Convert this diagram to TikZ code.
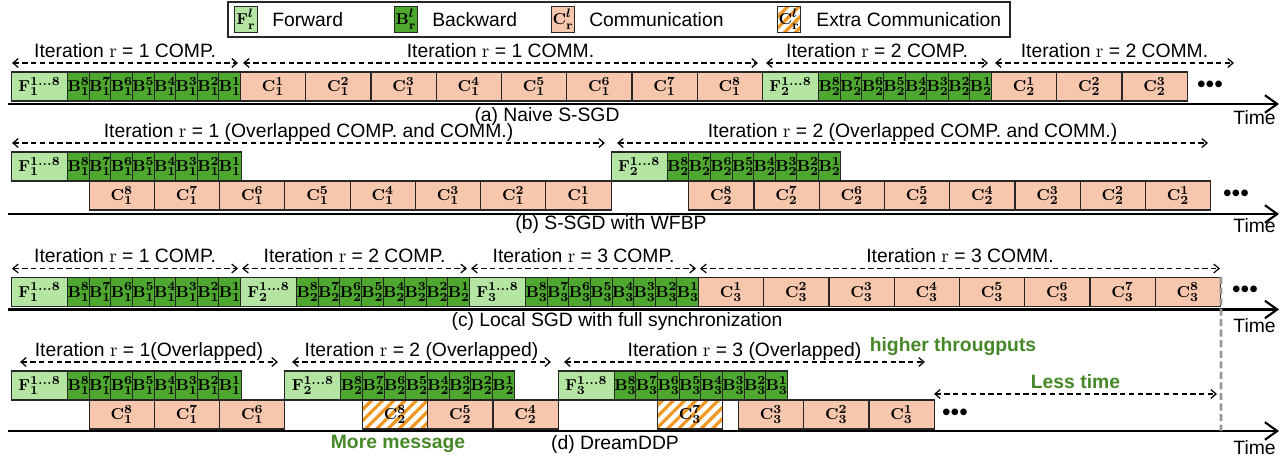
\documentclass[tikz,border=0pt]{standalone}
\usepackage[no-math]{fontspec}
\setmainfont{Liberation Sans}
\usetikzlibrary{positioning}
\usetikzlibrary{arrows.meta}
\usetikzlibrary{patterns.meta}

\definecolor{fwdgreen}{HTML}{B4E5A2}
\definecolor{bwdgreen}{HTML}{4EA72E}
\definecolor{commpink}{HTML}{F6C6AD}
\definecolor{hatchorange}{RGB}{240,150,30}
\definecolor{notegreen}{RGB}{70,135,40}
\definecolor{limitgrey}{RGB}{150,150,150}

\newcommand{\blabel}[3]{{\boldmath$\mathbf{#1}^{#3}_{#2}$}}
\newcommand{\rsub}{\lower1.2pt\hbox{$\scriptstyle\mathbf{r}$}}

\begin{document}
\begin{tikzpicture}[x=0.02cm,y=-0.02cm,
	every node/.style={font=\fontsize{11}{13}\selectfont},
	blk/.style={draw=black!85,line width=0.6pt,inner sep=0pt,anchor=west,minimum height=0.58cm,font=\fontsize{9.5}{10}\selectfont},
	fwd/.style={blk,fill=fwdgreen,minimum width=1.12cm},
	bwd/.style={blk,fill=bwdgreen,minimum width=0.4325cm},
	comm/.style={blk,fill=commpink,minimum width=1.305cm},
	xcomm/.style={blk,minimum width=1.305cm,pattern={Lines[angle=45,distance=4.5pt,line width=1.8pt]},pattern color=hatchorange},
	icon/.style={minimum width=0.46cm,minimum height=0.52cm},
	iterspan/.style={{Straight Barb[length=3pt,width=5pt]}-{Straight Barb[length=3pt,width=5pt]},dash pattern=on 3pt off 2pt,line width=0.7pt},
	timeaxis/.style={-{Straight Barb[length=7pt,width=10pt]},line width=1.2pt},
	spanlbl/.style={above,inner sep=3pt,text depth=0pt},
	note/.style={font=\fontsize{11}{13}\selectfont\bfseries,text=notegreen},
	ellip/.style={inner sep=0pt,font=\fontsize{14}{14}\selectfont},
	timelbl/.style={anchor=east,inner sep=0pt},
	limitline/.style={limitgrey,line width=1.6pt,dash pattern=on 4pt off 2pt}]
	\useasboundingbox (0,0) rectangle (1286,459);
	
	% draw legend
	\draw[line width=0.6pt,black!85] (228,2) rectangle (1010,37);
	\node[fwd,icon] (lg-f) at (234,19.5) {\blabel{F}{\rsub}{l}};
	\node[right=0.16cm of lg-f] (lg-ft) {Forward};
	\node[bwd,icon] (lg-b) at (394,19.5) {\blabel{B}{\rsub}{l}};
	\node[right=0.16cm of lg-b] (lg-bt) {Backward};
	\node[comm,icon] (lg-c) at (551,19.5) {\blabel{C}{\rsub}{l}};
	\node[right=0.16cm of lg-c] (lg-ct) {Communication};
	\node[xcomm,icon] (lg-x) at (776,19.5) {\blabel{C}{\rsub}{l}};
	\node[right=0.16cm of lg-x] (lg-xt) {Extra Communication};
	
	% draw row (a): naive S-SGD
	\node[fwd] (a-f1) at (11,86.5) {\blabel{F}{1}{1\ldots8}};
	\foreach \k [count=\i from 0] in {8,...,1}
	{
		\node[bwd] (a-b1-\k) at (67+\i*21.625,86.5) {\blabel{B}{1}{\k}};
	}
	\foreach \k [count=\i from 0] in {1,...,8}
	{
		\node[comm] (a-c1-\k) at (240+\i*65.25,86.5) {\blabel{C}{1}{\k}};
	}
	\node[fwd] (a-f2) at (762,86.5) {\blabel{F}{2}{1\ldots8}};
	\foreach \k [count=\i from 0] in {8,...,1}
	{
		\node[bwd] (a-b2-\k) at (818+\i*21.625,86.5) {\blabel{B}{2}{\k}};
	}
	\foreach \k [count=\i from 0] in {1,...,3}
	{
		\node[comm] (a-c2-\k) at (991+\i*65.25,86.5) {\blabel{C}{2}{\k}};
	}
	\node[ellip] (a-more) at (1210,86.5) {•••};
	
	% iteration spans of row (a)
	\coordinate (a-p0) at (12,63);
	\coordinate (a-p1) at (238,63);
	\coordinate (a-p2) at (243,63);
	\coordinate (a-p3) at (758,63);
	\coordinate (a-p4) at (766,63);
	\coordinate (a-p5) at (988,63);
	\coordinate (a-p6) at (995,63);
	\coordinate (a-p7) at (1234,63);
	\draw[iterspan] (a-p0) -- node[spanlbl] (a-l1) {Iteration $\mathrm{r}$ = 1 COMP.} (a-p1);
	\draw[iterspan] (a-p2) -- node[spanlbl] (a-l2) {Iteration $\mathrm{r}$ = 1 COMM.} (a-p3);
	\draw[iterspan] (a-p4) -- node[spanlbl] (a-l3) {Iteration $\mathrm{r}$ = 2 COMP.} (a-p5);
	\draw[iterspan] (a-p6) -- node[spanlbl] (a-l4) {Iteration $\mathrm{r}$ = 2 COMM.} (a-p7);
	
	% time axis of row (a)
	\coordinate (a-t0) at (8,104);
	\coordinate (a-t1) at (1279,104);
	\draw[timeaxis] (a-t0) -- (a-t1);
	\node (a-cap) at (547,117) {(a) Naive S-SGD};
	\node[timelbl] (a-time) at (1276,118) {Time};
	
	% draw row (b): S-SGD with WFBP
	\node[fwd] (b-f1) at (11,166.5) {\blabel{F}{1}{1\ldots8}};
	\foreach \k [count=\i from 0] in {8,...,1}
	{
		\node[bwd] (b-b1-\k) at (67+\i*21.625,166.5) {\blabel{B}{1}{\k}};
		\node[comm] (b-c1-\k) at (88.625+\i*65.25,195.5) {\blabel{C}{1}{\k}};
	}
	\node[fwd] (b-f2) at (610.625,166.5) {\blabel{F}{2}{1\ldots8}};
	\foreach \k [count=\i from 0] in {8,...,1}
	{
		\node[bwd] (b-b2-\k) at (666.625+\i*21.625,166.5) {\blabel{B}{2}{\k}};
		\node[comm] (b-c2-\k) at (688.25+\i*65.25,195.5) {\blabel{C}{2}{\k}};
	}
	\node[ellip] (b-more) at (1236,195.5) {•••};
	
	% iteration spans of row (b)
	\coordinate (b-p0) at (12,143);
	\coordinate (b-p1) at (605,143);
	\coordinate (b-p2) at (617,143);
	\coordinate (b-p3) at (1208,143);
	\draw[iterspan] (b-p0) -- node[spanlbl] (b-l1) {Iteration $\mathrm{r}$ = 1 (Overlapped COMP. and COMM.)} (b-p1);
	\draw[iterspan] (b-p2) -- node[spanlbl] (b-l2) {Iteration $\mathrm{r}$ = 2 (Overlapped COMP. and COMM.)} (b-p3);
	
	% time axis of row (b)
	\coordinate (b-t0) at (8,214);
	\coordinate (b-t1) at (1279,214);
	\draw[timeaxis] (b-t0) -- (b-t1);
	\node (b-cap) at (611,225) {(b) S-SGD with WFBP};
	\node[timelbl] (b-time) at (1276,226) {Time};
	
	% draw row (c): local SGD with full synchronization
	\foreach \r/\x in {1/11,2/240,3/469}
	{
		\node[fwd] (c-f\r) at (\x,292) {\blabel{F}{\r}{1\ldots8}};
		\foreach \k [count=\i from 0] in {8,...,1}
		{
			\node[bwd] (c-b\r-\k) at (\x+56+\i*21.625,292) {\blabel{B}{\r}{\k}};
		}
	}
	\foreach \k [count=\i from 0] in {1,...,8}
	{
		\node[comm] (c-c3-\k) at (698+\i*65.25,292) {\blabel{C}{3}{\k}};
	}
	\node[ellip] (c-more) at (1245,292) {•••};
	
	% iteration spans of row (c)
	\coordinate (c-p0) at (12,268.5);
	\coordinate (c-p1) at (238,268.5);
	\coordinate (c-p2) at (242,268.5);
	\coordinate (c-p3) at (467,268.5);
	\coordinate (c-p4) at (471,268.5);
	\coordinate (c-p5) at (696,268.5);
	\coordinate (c-p6) at (700,268.5);
	\coordinate (c-p7) at (1220,268.5);
	\draw[iterspan] (c-p0) -- node[spanlbl] (c-l1) {Iteration $\mathrm{r}$ = 1 COMP.} (c-p1);
	\draw[iterspan] (c-p2) -- node[spanlbl] (c-l2) {Iteration $\mathrm{r}$ = 2 COMP.} (c-p3);
	\draw[iterspan] (c-p4) -- node[spanlbl] (c-l3) {Iteration $\mathrm{r}$ = 3 COMP.} (c-p5);
	\draw[iterspan] (c-p6) -- node[spanlbl] (c-l4) {Iteration $\mathrm{r}$ = 3 COMM.} (c-p7);
	
	% time axis of row (c)
	\coordinate (c-t0) at (8,309.5);
	\coordinate (c-t1) at (1279,309.5);
	\draw[timeaxis] (c-t0) -- (c-t1);
	\node (c-cap) at (617,322) {(c) Local SGD with full synchronization};
	\node[timelbl] (c-time) at (1276,326) {Time};
	
	% draw row (d): DreamDDP
	\node[fwd] (d-f1) at (11,385.5) {\blabel{F}{1}{1\ldots8}};
	\foreach \k [count=\i from 0] in {8,...,1}
	{
		\node[bwd] (d-b1-\k) at (67+\i*21.625,385.5) {\blabel{B}{1}{\k}};
	}
	\foreach \k [count=\i from 0] in {8,7,6}
	{
		\node[comm] (d-c1-\k) at (88.625+\i*65.25,414.5) {\blabel{C}{1}{\k}};
	}
	\node[fwd] (d-f2) at (284.375,385.5) {\blabel{F}{2}{1\ldots8}};
	\foreach \k [count=\i from 0] in {8,...,1}
	{
		\node[bwd] (d-b2-\k) at (340.375+\i*21.625,385.5) {\blabel{B}{2}{\k}};
	}
	\node[xcomm] (d-c2-8) at (362,414.5) {\blabel{C}{2}{8}};
	\node[comm] (d-c2-5) at (427.25,414.5) {\blabel{C}{2}{5}};
	\node[comm] (d-c2-4) at (492.5,414.5) {\blabel{C}{2}{4}};
	\node[fwd] (d-f3) at (557.75,385.5) {\blabel{F}{3}{1\ldots8}};
	\foreach \k [count=\i from 0] in {8,...,1}
	{
		\node[bwd] (d-b3-\k) at (613.75+\i*21.625,385.5) {\blabel{B}{3}{\k}};
	}
	\node[xcomm] (d-c3-7) at (657,414.5) {\blabel{C}{3}{7}};
	\foreach \k [count=\i from 0] in {3,2,1}
	{
		\node[comm] (d-c3-\k) at (738+\i*65.25,414.5) {\blabel{C}{3}{\k}};
	}
	\node[ellip] (d-more) at (955,414.5) {•••};
	
	% iteration spans of row (d)
	\coordinate (d-p0) at (20,362);
	\coordinate (d-p1) at (278,362);
	\coordinate (d-p2) at (292,362);
	\coordinate (d-p3) at (551,362);
	\coordinate (d-p4) at (564,362);
	\coordinate (d-p5) at (925,362);
	\draw[iterspan] (d-p0) -- node[spanlbl] (d-l1) {Iteration $\mathrm{r}$ = 1(Overlapped)} (d-p1);
	\draw[iterspan] (d-p2) -- node[spanlbl] (d-l2) {Iteration $\mathrm{r}$ = 2 (Overlapped)} (d-p3);
	\draw[iterspan] (d-p4) -- node[spanlbl] (d-l3) {Iteration $\mathrm{r}$ = 3 (Overlapped)} (d-p5);
	\node[note] (d-thr) at (953,347) {higher througputs};
	
	% saved time of row (d)
	\coordinate (d-s0) at (934,394);
	\coordinate (d-s1) at (1217,394);
	\draw[iterspan] (d-s0) -- node[spanlbl,note] (d-less) {Less time} (d-s1);
	
	% time axis of row (d)
	\coordinate (d-t0) at (8,431);
	\coordinate (d-t1) at (1279,431);
	\draw[timeaxis] (d-t0) -- (d-t1);
	\node[note] (d-msg) at (398,444) {More message};
	\node (d-cap) at (615,444) {(d) DreamDDP};
	\node[timelbl] (d-time) at (1276,448) {Time};
	
	% end of row (c) carried down to row (d)
	\coordinate (d-limit) at (1221,431);
	\draw[limitline] (c-c3-8.north east) -- (d-limit);
\end{tikzpicture}
\end{document}
